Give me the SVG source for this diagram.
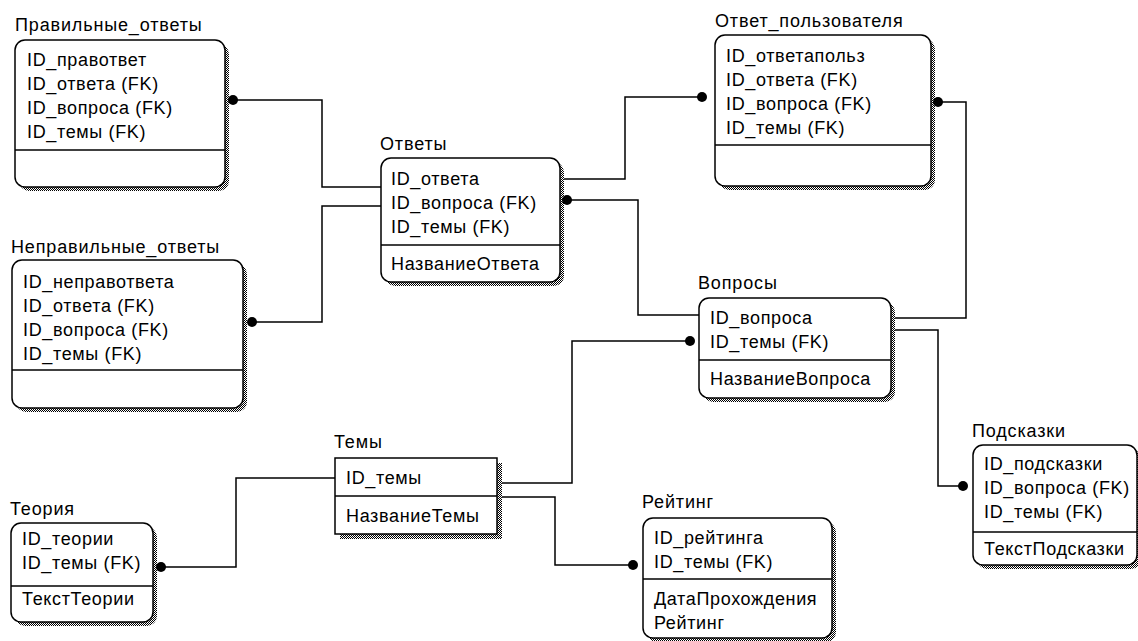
<svg xmlns="http://www.w3.org/2000/svg" width="1138" height="641" viewBox="0 0 1138 641">
<defs>
<pattern id="hatch" width="2" height="2" patternUnits="userSpaceOnUse"><rect width="2" height="2" fill="#fff"/><rect width="1" height="1" fill="#000"/><rect x="1" y="1" width="1" height="1" fill="#000"/></pattern>
<style>
text{font-family:"Liberation Sans",Arial,sans-serif;font-size:18px;fill:#000;letter-spacing:0.65px}
.t{letter-spacing:0.85px}
.box{fill:#fff;stroke:#000;stroke-width:1.5}
.sh{fill:url(#hatch);stroke:none}
.div{stroke:#000;stroke-width:1.5}
.con{fill:none;stroke:#000;stroke-width:1.5}
.dot{fill:#000}
</style>
</defs>
<rect width="1138" height="641" fill="#fff"/>

<g id="connectors">
<path class="con" d="M233,100 H322 V187 H381"/>
<path class="con" d="M252,322 H322 V206 H381"/>
<path class="con" d="M560,179 H625 V97 H702"/>
<path class="con" d="M567,200 H638 V315 H699"/>
<path class="con" d="M938,102 H966 V318 H891"/>
<path class="con" d="M891,330 H938 V486 H963"/>
<path class="con" d="M690,341 H572 V483 H497"/>
<path class="con" d="M497,497 H555 V565 H633"/>
<path class="con" d="M161,567 H236 V478 H335"/>
</g>

<g id="n_pravilnye">
<rect class="sh" x="19" y="44" width="210" height="147" rx="10"/>
<rect class="box" x="15" y="40" width="210" height="147" rx="10"/>
<line class="div" x1="15" y1="150" x2="225" y2="150"/>
<text class="t" x="15" y="31">Правильные_ответы</text>
<text x="27" y="66">ID_правответ</text>
<text x="27" y="90">ID_ответа (FK)</text>
<text x="27" y="114">ID_вопроса (FK)</text>
<text x="27" y="138">ID_темы (FK)</text>
<circle class="dot" cx="233" cy="100" r="5"/>
</g>

<g id="n_nepravilnye">
<rect class="sh" x="16" y="264" width="231" height="148" rx="10"/>
<rect class="box" x="12" y="260" width="231" height="148" rx="10"/>
<line class="div" x1="12" y1="370" x2="243" y2="370"/>
<text class="t" x="11" y="253">Неправильные_ответы</text>
<text x="23" y="288">ID_неправответа</text>
<text x="23" y="312">ID_ответа (FK)</text>
<text x="23" y="336">ID_вопроса (FK)</text>
<text x="23" y="360">ID_темы (FK)</text>
<circle class="dot" cx="252" cy="322" r="5"/>
</g>

<g id="n_otvety">
<rect class="sh" x="385" y="162" width="179" height="124" rx="10"/>
<rect class="box" x="381" y="158" width="179" height="124" rx="10"/>
<line class="div" x1="381" y1="245" x2="560" y2="245"/>
<text class="t" x="380" y="150">Ответы</text>
<text x="391" y="185">ID_ответа</text>
<text x="391" y="209">ID_вопроса (FK)</text>
<text x="391" y="233">ID_темы (FK)</text>
<text x="391" y="270">НазваниеОтвета</text>
<circle class="dot" cx="567" cy="200" r="5"/>
</g>

<g id="n_otvet_polz">
<rect class="sh" x="719" y="39" width="216" height="151" rx="10"/>
<rect class="box" x="715" y="35" width="216" height="151" rx="10"/>
<line class="div" x1="715" y1="145" x2="931" y2="145"/>
<text class="t" x="715" y="27">Ответ_пользователя</text>
<text x="726" y="62">ID_ответапольз</text>
<text x="726" y="86">ID_ответа (FK)</text>
<text x="726" y="110">ID_вопроса (FK)</text>
<text x="726" y="134">ID_темы (FK)</text>
<circle class="dot" cx="702" cy="97" r="5"/>
<circle class="dot" cx="938" cy="102" r="5"/>
</g>

<g id="n_voprosy">
<rect class="sh" x="703" y="302" width="192" height="100" rx="10"/>
<rect class="box" x="699" y="298" width="192" height="100" rx="10"/>
<line class="div" x1="699" y1="360" x2="891" y2="360"/>
<text class="t" x="698" y="289">Вопросы</text>
<text x="710" y="324">ID_вопроса</text>
<text x="710" y="348">ID_темы (FK)</text>
<text x="710" y="385">НазваниеВопроса</text>
<circle class="dot" cx="690" cy="341" r="5"/>
</g>

<g id="n_podskazki">
<rect class="sh" x="977" y="449" width="164" height="120" rx="10"/>
<rect class="box" x="973" y="445" width="164" height="120" rx="10"/>
<line class="div" x1="973" y1="532" x2="1137" y2="532"/>
<text class="t" x="972" y="437">Подсказки</text>
<text x="984" y="470">ID_подсказки</text>
<text x="984" y="494">ID_вопроса (FK)</text>
<text x="984" y="518">ID_темы (FK)</text>
<text x="984" y="555">ТекстПодсказки</text>
<circle class="dot" cx="963" cy="486" r="5"/>
</g>

<g id="n_teoriya">
<rect class="sh" x="15" y="527" width="142" height="99" rx="10"/>
<rect class="box" x="11" y="523" width="142" height="99" rx="10"/>
<line class="div" x1="11" y1="586" x2="153" y2="586"/>
<text class="t" x="10" y="515">Теория</text>
<text x="22" y="545">ID_теории</text>
<text x="22" y="569">ID_темы (FK)</text>
<text x="22" y="605">ТекстТеории</text>
<circle class="dot" cx="161" cy="567" r="5"/>
</g>

<g id="n_temy">
<rect class="sh" x="340" y="463" width="162" height="76"/>
<rect class="box" x="335" y="458" width="162" height="76"/>
<line class="div" x1="335" y1="496" x2="497" y2="496"/>
<text class="t" x="334" y="448">Темы</text>
<text x="346" y="484">ID_темы</text>
<text x="346" y="522">НазваниеТемы</text>
</g>

<g id="n_reyting">
<rect class="sh" x="647" y="522" width="189" height="120" rx="10"/>
<rect class="box" x="643" y="518" width="189" height="120" rx="10"/>
<line class="div" x1="643" y1="579" x2="832" y2="579"/>
<text class="t" x="642" y="508">Рейтинг</text>
<text x="654" y="544">ID_рейтинга</text>
<text x="654" y="568">ID_темы (FK)</text>
<text x="654" y="605">ДатаПрохождения</text>
<text x="654" y="629">Рейтинг</text>
<circle class="dot" cx="633" cy="565" r="5"/>
</g>
</svg>
